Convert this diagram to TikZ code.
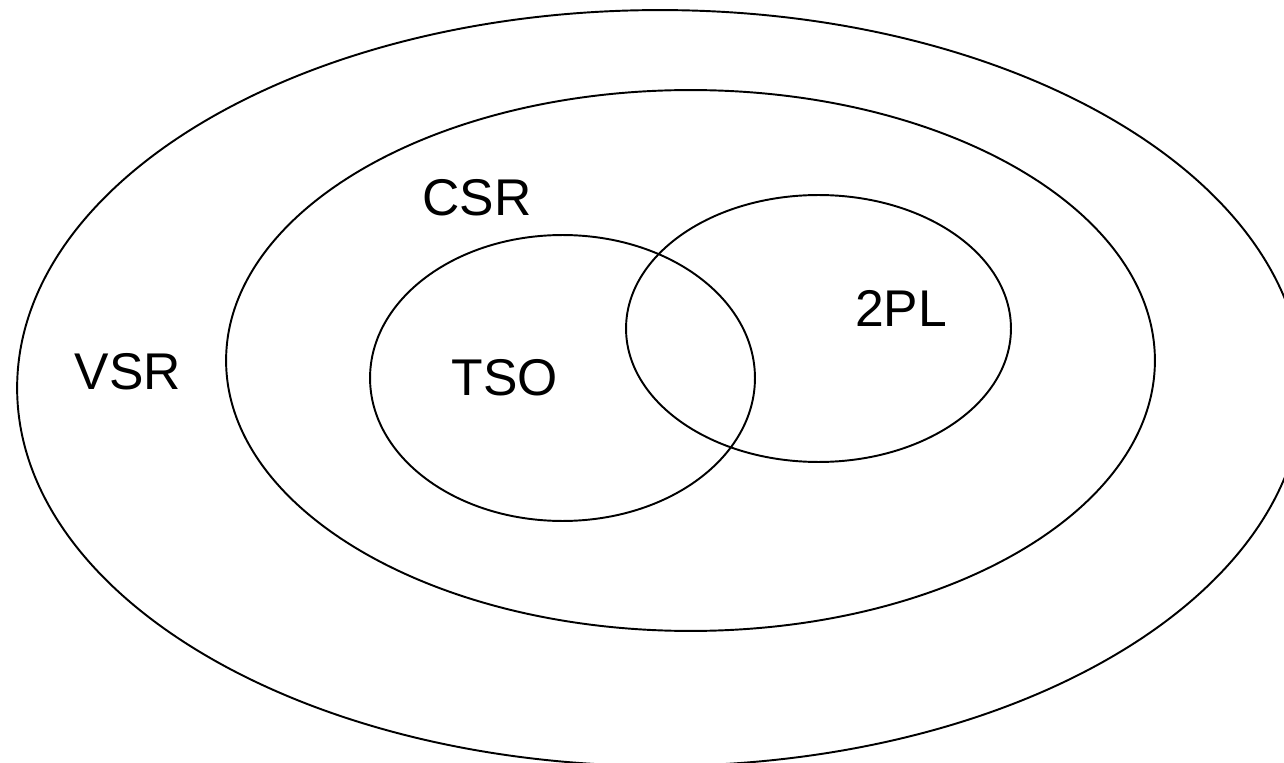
\documentclass[tikz,border=0pt]{standalone}
\usepackage{fontspec}
\setmainfont{Liberation Sans}
\usetikzlibrary{shapes.geometric}
\begin{document}
\begin{tikzpicture}[x=0.02cm,y=-0.02cm,
    set/.style={draw,ellipse,line width=1.1pt,inner sep=0pt,outer sep=0pt},
    setname/.style={inner sep=0pt,font=\fontsize{29.4}{34}\selectfont}]
                \useasboundingbox (0,0) rectangle (1284,763);
                \node [set,minimum width=25.72cm,minimum height=15.12cm] (vsr) at (660,388) {};
                \node [set,minimum width=18.58cm,minimum height=10.82cm] (csr) at (690.5,360.5) {};
                \node [set,minimum width=7.7cm,minimum height=5.72cm] (tso) at (562.5,378) {};
                \node [set,minimum width=7.7cm,minimum height=5.34cm] (tpl) at (818.5,328.5) {};
                \node [setname] (vsrname) at (128,372) {VSR};
                \node [setname] (csrname) at (477,198) {CSR};
                \node [setname] (tsoname) at (505,378) {TSO};
                \node [setname] (tplname) at (901,308) {2PL};
            \end{tikzpicture}
\end{document}
